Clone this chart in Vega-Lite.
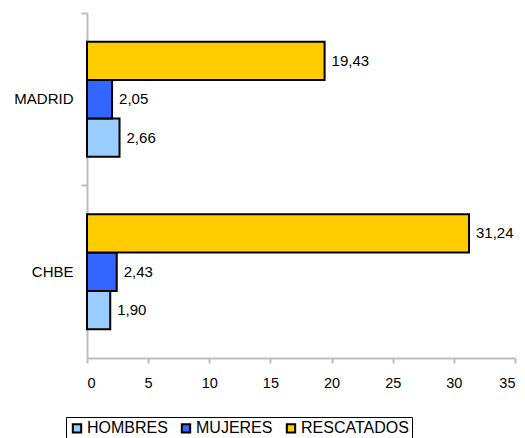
{
  "$schema": "https://vega.github.io/schema/vega-lite/v6.json",
  "autosize": {"type": "none"},
  "padding": {"left": 87, "top": 13, "right": 10, "bottom": 80},
  "width": 428,
  "height": 345,
  "config": {
    "font": "Liberation Sans",
    "view": {"stroke": null},
    "locale": {"number": {"decimal": ",", "thousands": ".", "grouping": [3], "currency": ["", " €"]}}
  },
  "data": {
    "values": [
      {"region": "MADRID", "grupo": "HOMBRES", "valor": 2.66},
      {"region": "MADRID", "grupo": "MUJERES", "valor": 2.05},
      {"region": "MADRID", "grupo": "RESCATADOS", "valor": 19.43},
      {"region": "CHBE", "grupo": "HOMBRES", "valor": 1.90},
      {"region": "CHBE", "grupo": "MUJERES", "valor": 2.43},
      {"region": "CHBE", "grupo": "RESCATADOS", "valor": 31.24}
    ]
  },
  "encoding": {
    "y": {
      "field": "region", "type": "nominal", "sort": ["MADRID", "CHBE"],
      "scale": {"paddingInner": 0, "paddingOuter": 0},
      "axis": {"title": null, "bandPosition": 0, "domainColor": "#bdbdbd", "domainWidth": 2, "tickColor": "#bdbdbd", "tickWidth": 2, "tickSize": 6, "labelFontSize": 15, "labelColor": "#000000", "labelPadding": 8}
    },
    "yOffset": {
      "field": "grupo", "type": "nominal", "sort": ["RESCATADOS", "MUJERES", "HOMBRES"],
      "scale": {"paddingInner": 0, "paddingOuter": 0.75}
    },
    "x": {
      "field": "valor", "type": "quantitative",
      "scale": {"domain": [0, 35], "nice": false},
      "axis": {"title": null, "values": [0, 5, 10, 15, 20, 25, 30, 35], "grid": false, "domainColor": "#bdbdbd", "domainWidth": 2, "tickColor": "#bdbdbd", "tickWidth": 2, "tickSize": 5, "labelFontSize": 14.5, "labelColor": "#000000", "labelPadding": 13, "format": "d"}
    }
  },
  "layer": [
    {
      "mark": {"type": "bar", "stroke": "#000000", "strokeWidth": 2},
      "encoding": {
        "color": {
          "field": "grupo", "type": "nominal",
          "scale": {"domain": ["HOMBRES", "MUJERES", "RESCATADOS"], "range": ["#99CCFF", "#3366FF", "#FFCC00"]},
          "legend": {
            "title": null, "orient": "none", "direction": "horizontal",
            "legendX": -21, "legendY": 404,
            "strokeColor": "#000000", "padding": 3,
            "symbolType": "square", "symbolSize": 70, "symbolStrokeColor": "#000000", "symbolStrokeWidth": 2,
            "labelFontSize": 16, "labelColor": "#000000", "labelOffset": 2, "columnPadding": 9
          }
        }
      }
    },
    {
      "mark": {"type": "text", "align": "left", "dx": 7, "fontSize": 15, "color": "#000000"},
      "encoding": {
        "text": {"field": "valor", "type": "quantitative", "format": ".2f"}
      }
    }
  ]
}
